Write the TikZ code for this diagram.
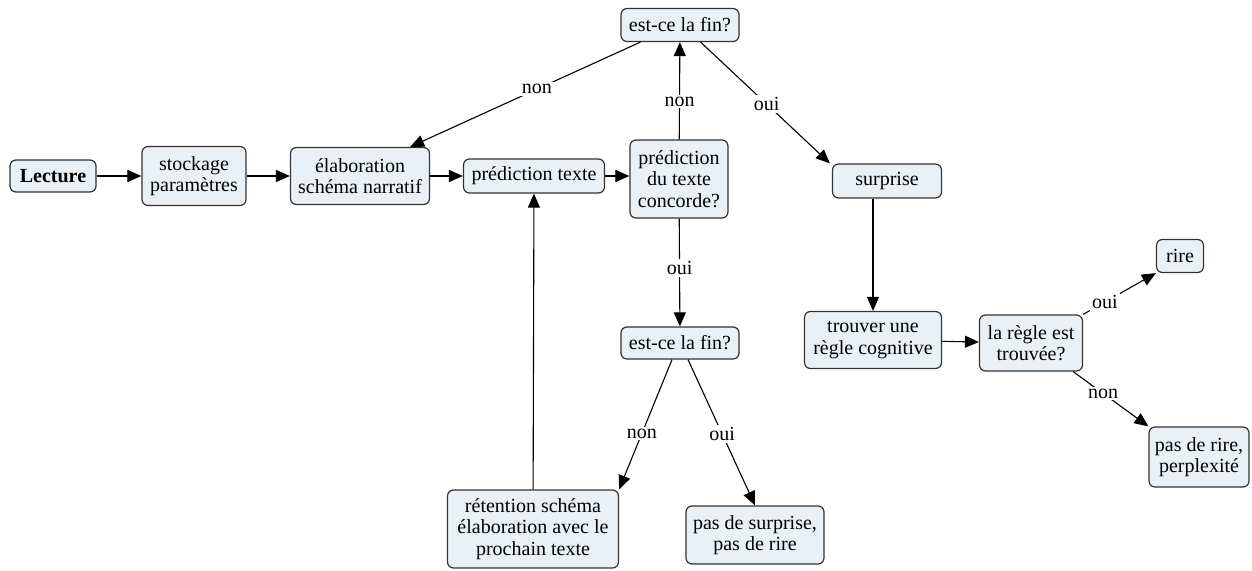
\documentclass[tikz,border=0pt]{standalone}
\usepackage{fontspec}
\setmainfont{Liberation Serif}
\usetikzlibrary{arrows.meta,calc}
\begin{document}
\begin{tikzpicture}[x=1pt,y=-1pt,
  box/.style={draw=black!80,line width=1.2pt,rounded corners=6pt,fill=boxfill,
    align=center,inner sep=1pt,font=\fontsize{20}{21.5}\selectfont},
  conn/.style={line width=1.1pt,-{Triangle[length=14pt,width=12pt]}},
  lab/.style={fill=white,inner sep=2pt,font=\fontsize{20}{21.5}\selectfont}]
\definecolor{boxfill}{HTML}{EAF1F6}
\useasboundingbox (0,0) rectangle (1252,570);
\node[box,minimum width=86,minimum height=32] (lect) at (53,176) {\textbf{Lecture}};
\node[box,minimum width=104,minimum height=59] (stock) at (194,176) {stockage\\paramètres};
\node[box,minimum width=139,minimum height=57] (elab) at (360,176) {élaboration\\schéma narratif};
\node[box,minimum width=141,minimum height=34] (pred) at (534,176) {prédiction texte};
\node[box,minimum width=98,minimum height=78] (conc) at (679,179) {prédiction\\du texte\\concorde?};
\node[box,minimum width=118,minimum height=33] (fin1) at (680,25) {est-ce la fin?};
\node[box,minimum width=109,minimum height=34] (surp) at (887,181) {surprise};
\node[box,minimum width=137,minimum height=57] (trouv) at (873,340) {trouver une\\règle cognitive};
\node[box,minimum width=103,minimum height=56] (regle) at (1031,343) {la règle est\\trouvée?};
\node[box,minimum width=47,minimum height=33] (rire) at (1180,256) {rire};
\node[box,minimum width=100,minimum height=60] (pdr) at (1199,457) {pas de rire,\\perplexité};
\node[box,minimum width=118,minimum height=32] (fin2) at (680,343) {est-ce la fin?};
\node[box,minimum width=171,minimum height=78] (ret) at (533,529) {rétention schéma\\élaboration avec le\\prochain texte};
\node[box,minimum width=138,minimum height=58] (pds) at (755,535) {pas de surprise,\\pas de rire};

\draw[conn] (lect) -- (stock);
\draw[conn] (stock) -- (elab);
\draw[conn] (elab) -- (pred);
\draw[conn] (pred.east) -- (pred.east -| conc.west);
\draw[conn] (conc) -- node[lab,pos=0.39]{non} (fin1);
\draw[conn] ([xshift=20]fin1.south west) -- node[lab,pos=0.45]{non} ([xshift=-20]elab.north east);
\draw[conn] ([xshift=-39]fin1.south east) -- node[lab,pos=0.51]{oui} ([xshift=-2]surp.north west);
\draw[conn] (conc) -- node[lab,pos=0.46]{oui} (fin2);
\draw[conn] ([xshift=-8]fin2.south) -- node[lab,pos=0.57]{non} (ret.north east);
\draw[conn] ([xshift=8]fin2.south) -- node[lab,pos=0.51]{oui} (pds.north);
\draw[conn] (ret) -- (pred);
\draw[conn] (surp.south -| trouv.north) -- (trouv.north);
\draw[conn] (trouv) -- (regle);
\draw[conn] (regle.north east) -- node[lab,pos=0.3]{oui} (rire.south west);
\draw[conn] ([xshift=-10]regle.south east) -- node[lab,pos=0.4]{non} (pdr.north west);
\end{tikzpicture}
\end{document}
